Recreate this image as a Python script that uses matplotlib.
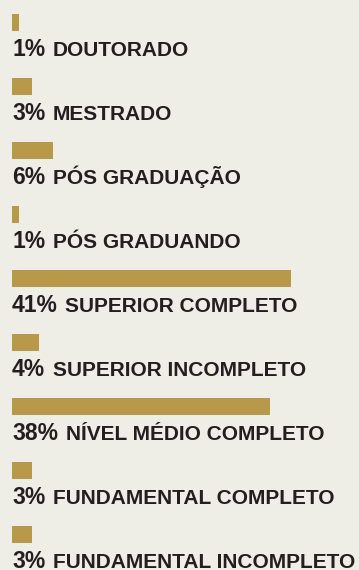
import matplotlib
matplotlib.use("Agg")
import matplotlib.pyplot as plt

# escolaridade dos entrevistados (%)
categorias = [
    "DOUTORADO",
    "MESTRADO",
    "PÓS GRADUAÇÃO",
    "PÓS GRADUANDO",
    "SUPERIOR COMPLETO",
    "SUPERIOR INCOMPLETO",
    "NÍVEL MÉDIO COMPLETO",
    "FUNDAMENTAL COMPLETO",
    "FUNDAMENTAL INCOMPLETO",
]
percentuais = [1, 3, 6, 1, 41, 4, 38, 3, 3]

fundo = "#eeeee6"
dourado = "#b8994a"
texto = "#231f20"

plt.rcParams["font.family"] = ["Liberation Sans", "DejaVu Sans"]

W, H, dpi = 359, 570, 100
fig = plt.figure(figsize=(W / dpi, H / dpi), dpi=dpi, facecolor=fundo)

# eixo ocupando a figura toda; 1 ponto percentual = 6.8 px, linhas a cada 64 px
px_por_pct = 6.8
passo = 64.0
centro0 = 22.5
ax = fig.add_axes([12 / W, 0, (W - 12) / W, 1])
ax.set_facecolor(fundo)
ax.set_xlim(0, (W - 12) / px_por_pct)
ax.set_ylim((H - centro0) / passo, -centro0 / passo)
ax.axis("off")

linhas = range(len(categorias))
ax.barh(linhas, percentuais, height=17 / passo, left=0, color=dourado)

for i, (cat, v) in enumerate(zip(categorias, percentuais)):
    pct = ax.annotate(f"{v}%", xy=(0, i), xytext=(0, -34),
                      textcoords="offset pixels", ha="left", va="baseline",
                      fontsize=16.5, fontweight="bold", color=texto)
    ax.annotate(cat, xy=(1, i), xycoords=(pct, "data"), xytext=(7.5, -34),
                textcoords="offset pixels", ha="left", va="baseline",
                fontsize=15, fontweight="bold", color=texto)

fig.savefig("out.png", dpi=dpi, facecolor=fundo)
